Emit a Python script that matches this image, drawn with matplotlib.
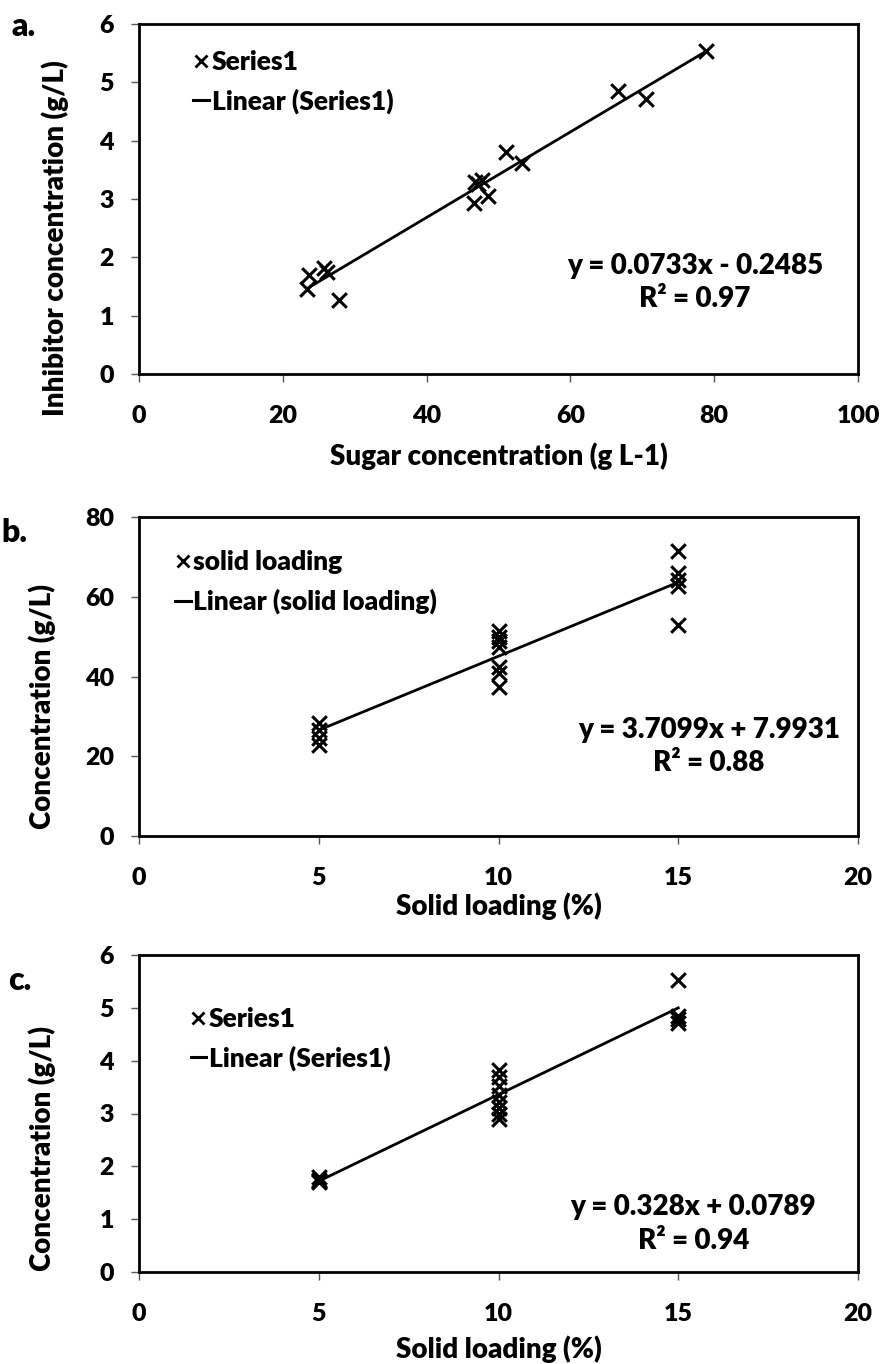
import matplotlib
matplotlib.use("Agg")
import matplotlib.pyplot as plt
from matplotlib.lines import Line2D

plt.rcParams['font.family'] = ['Lato', 'DejaVu Sans']
plt.rcParams['font.weight'] = 'heavy'

# Panel a: inhibitor vs sugar concentration
sugar_a = [23.4, 23.7, 25.7, 26.2, 27.8, 46.6, 46.7, 47.2, 47.7, 48.5, 51.1, 53.2, 66.6, 70.5, 78.9]
inhib_a = [1.45, 1.70, 1.81, 1.75, 1.27, 2.93, 3.29, 3.26, 3.32, 3.05, 3.80, 3.62, 4.85, 4.72, 5.54]
slope_a, icpt_a = 0.0733, -0.2485

# Panel b: sugar concentration vs solid loading
load_b = [5, 5, 5, 5, 10, 10, 10, 10, 10, 10, 10, 15, 15, 15, 15, 15]
conc_b = [28.4, 26.6, 24.5, 22.8, 51.3, 50.0, 48.8, 47.5, 42.3, 40.9, 37.4, 71.5, 66.0, 64.3, 62.6, 53.0]
slope_b, icpt_b = 3.7099, 7.9931

# Panel c: inhibitor concentration vs solid loading
load_c = [5, 5, 5, 5, 10, 10, 10, 10, 10, 10, 10, 10, 15, 15, 15, 15]
conc_c = [1.70, 1.75, 1.80, 1.72, 3.82, 3.70, 3.52, 3.35, 3.22, 3.10, 3.00, 2.90, 5.52, 4.85, 4.78, 4.72]
slope_c, icpt_c = 0.328, 0.0789

W, H = 883, 1364

panels = [
    dict(x=sugar_a, y=inhib_a, m=slope_a, b=icpt_a, xlim=(0, 100), xt=[0, 20, 40, 60, 80, 100],
         ylim=(0, 6), yt=[0, 1, 2, 3, 4, 5, 6], xl='Sugar concentration (g L-1)',
         yl='Inhibitor concentration (g/L)', series='Series1',
         eq='y = 0.0733x - 0.2485\nR\u00b2 = 0.97', eqpos=(0.773, 0.261),
         box=(139, 858, 24, 374), tag='a.', tagxy=(12, 27),
         leg=(0.061, 0.834), ylab=(-0.117, 0.389), xlab=(0.5, -0.236)),
    dict(x=load_b, y=conc_b, m=slope_b, b=icpt_b, xlim=(0, 20), xt=[0, 5, 10, 15, 20],
         ylim=(0, 80), yt=[0, 20, 40, 60, 80], xl='Solid loading (%)',
         yl='Concentration (g/L)', series='solid loading',
         eq='y = 3.7099x + 7.9931\nR\u00b2 = 0.88', eqpos=(0.793, 0.281),
         box=(139, 858, 517, 836), tag='b.', tagxy=(1, 533),
         leg=(0.035, 0.795), ylab=(-0.134, 0.407), xlab=(0.5, -0.219)),
    dict(x=load_c, y=conc_c, m=slope_c, b=icpt_c, xlim=(0, 20), xt=[0, 5, 10, 15, 20],
         ylim=(0, 6), yt=[0, 1, 2, 3, 4, 5, 6], xl='Solid loading (%)',
         yl='Concentration (g/L)', series='Series1',
         eq='y = 0.328x + 0.0789\nR\u00b2 = 0.94', eqpos=(0.771, 0.151),
         box=(139, 858, 955, 1272), tag='c.', tagxy=(8, 980),
         leg=(0.057, 0.735), ylab=(-0.135, 0.391), xlab=(0.5, -0.243)),
]

fig = plt.figure(figsize=(W / 100, H / 100), dpi=100)

for p in panels:
    x0p, x1p, y0p, y1p = p['box']
    ax = fig.add_axes([x0p / W, 1 - y1p / H, (x1p - x0p) / W, (y1p - y0p) / H])
    ax.scatter(p['x'], p['y'], marker='x', s=110, color='black', linewidths=2.2, zorder=3)
    xa, xb = min(p['x']), max(p['x'])
    ax.plot([xa, xb], [p['m'] * xa + p['b'], p['m'] * xb + p['b']], color='black', lw=2.0, zorder=2)
    ax.set_xlim(*p['xlim'])
    ax.set_ylim(*p['ylim'])
    ax.set_xticks(p['xt'])
    ax.set_yticks(p['yt'])
    ax.tick_params(direction='out', length=6, width=1.0, labelsize=18, color='#555555')
    ax.tick_params(axis='x', pad=16)
    ax.tick_params(axis='y', pad=12)
    for lab in ax.get_xticklabels() + ax.get_yticklabels():
        lab.set_fontweight('heavy')
    for s in ax.spines.values():
        s.set_linewidth(2.0)
    ax.set_xlabel(p['xl'], fontsize=20, fontweight='heavy', va='center')
    ax.set_ylabel(p['yl'], fontsize=20, fontweight='heavy', va='center')
    ax.yaxis.set_label_coords(*p['ylab'])
    ax.xaxis.set_label_coords(*p['xlab'])
    handles = [Line2D([], [], marker='x', color='black', ls='none', markersize=9, mew=2.0),
               Line2D([], [], color='black', lw=2.2)]
    ax.legend(handles, [p['series'], 'Linear (' + p['series'] + ')'], loc='center left',
              bbox_to_anchor=p['leg'], frameon=False, handlelength=0.6,
              handletextpad=0.1, labelspacing=0.55, borderaxespad=0,
              prop=dict(size=19, weight='heavy'))
    ax.text(p['eqpos'][0], p['eqpos'][1], p['eq'], transform=ax.transAxes, ha='center',
            va='center', fontsize=20, fontweight='heavy', linespacing=1.35)
    fig.text(p['tagxy'][0] / W, 1 - p['tagxy'][1] / H, p['tag'], fontsize=23,
             fontweight='heavy', va='center', ha='left')

fig.savefig('out.png', dpi=100)
